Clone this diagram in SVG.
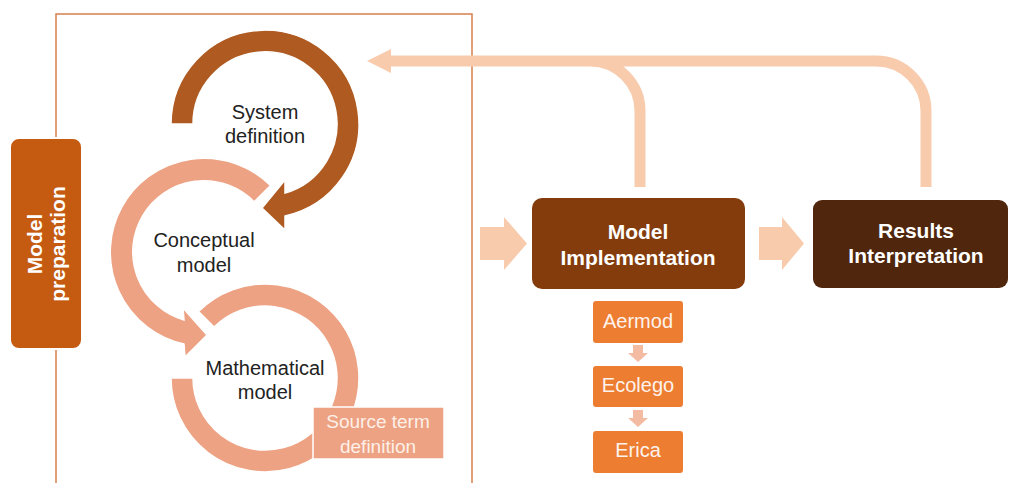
<svg xmlns="http://www.w3.org/2000/svg" width="1010" height="483" viewBox="0 0 1010 483">
<style>
.lbl{font-family:"Liberation Sans",Arial,sans-serif;font-size:20px;fill:#222;text-anchor:middle}
.bold{font-family:"Liberation Sans",Arial,sans-serif;font-size:21px;font-weight:bold;fill:#fff;text-anchor:middle}
.tool{font-family:"Liberation Sans",Arial,sans-serif;font-size:19px;fill:#fdf0e8;text-anchor:middle}
.tool2{font-family:"Liberation Sans",Arial,sans-serif;font-size:20px;fill:#fdf3ec;text-anchor:middle}
.peach{fill:#F8CBAD}
.ring{stroke:#fff;stroke-width:1.5}
</style>
<rect width="1010" height="483" fill="#fff"/>
<path d="M56,483 V14 H472 V483" fill="none" stroke="#D7804E" stroke-width="1.5"/>

<g id="connectors">
  <path d="M926,187 V111 A50,50 0 0 0 876,61 H390 M640,187 V111 A50,50 0 0 0 590,61" fill="none" stroke="#F8CBAD" stroke-width="11"/>
  <polygon class="peach" points="391,49 367,61 391,73"/>
  <polygon class="peach" points="480,227 504,227 504,217 527,243.5 504,270 504,260 480,260"/>
  <polygon class="peach" points="759,227 782,227 782,217 804,243.5 782,270 782,260 759,260"/>
  <polygon fill="#F4BBA3" points="633,345 643,345 643,353 648,353 638,362 628,353 633,353"/>
  <polygon fill="#F4BBA3" points="633,410 643,410 643,418 648,418 638,427 628,418 633,418"/>
</g>

<g id="model-preparation">
  <rect x="10" y="138" width="72" height="211" rx="9" fill="#C55A11" stroke="#fff" stroke-width="2"/>
  <g transform="translate(46,244) rotate(-90)">
    <text class="bold" x="0" y="-4">Model</text>
    <text class="bold" x="0" y="19">preparation</text>
  </g>
</g>

<g id="mathematical-model">
  <path class="ring" fill="#EDA283" d="M198.5,311.5 A94,94 0 1 1 171,378 L193,378 A72,72 0 1 0 214.1,327.1 Z"/>
  <text class="lbl" x="265" y="375">Mathematical</text>
  <text class="lbl" x="265" y="399">model</text>
</g>

<g id="conceptual-model">
  <path class="ring" fill="#EDA283" d="M270.5,185.5 A94,94 0 1 0 184,344 L185,357 L207,335 L183,308 L184,320 A71,71 0 1 1 254.2,201.8 Z"/>
  <text class="lbl" x="204" y="247">Conceptual</text>
  <text class="lbl" x="204" y="272">model</text>
</g>

<g id="system-definition">
  <path class="ring" fill="#AE5A21" d="M171,124 A94,94 0 1 1 285,216 L285,230 L262,208 L285,180 L285,193 A72,72 0 1 0 193,124 Z"/>
  <text class="lbl" x="265" y="119">System</text>
  <text class="lbl" x="265" y="143">definition</text>
</g>

<g id="source-term">
  <rect x="313" y="407" width="131" height="52" fill="#EDA283" stroke="#fff" stroke-width="1.5"/>
  <text class="tool" x="378" y="428">Source term</text>
  <text class="tool" x="378" y="453">definition</text>
</g>

<g id="model-implementation">
  <rect x="532" y="198" width="213" height="91" rx="10" fill="#843C0C"/>
  <text class="bold" x="638" y="239">Model</text>
  <text class="bold" x="638" y="265">Implementation</text>
</g>

<g id="results-interpretation">
  <rect x="813" y="200" width="195" height="88" rx="9" fill="#50260C"/>
  <text class="bold" x="916" y="238">Results</text>
  <text class="bold" x="916" y="263">Interpretation</text>
</g>

<g id="aermod">
  <rect x="593" y="301" width="90" height="42" rx="3" fill="#ED7D31"/>
  <text class="tool2" x="638" y="328">Aermod</text>
</g>
<g id="ecolego">
  <rect x="593" y="366" width="90" height="41" rx="3" fill="#ED7D31"/>
  <text class="tool2" x="638" y="392">Ecolego</text>
</g>
<g id="erica">
  <rect x="593" y="431" width="90" height="42" rx="3" fill="#ED7D31"/>
  <text class="tool2" x="638" y="457">Erica</text>
</g>
</svg>
